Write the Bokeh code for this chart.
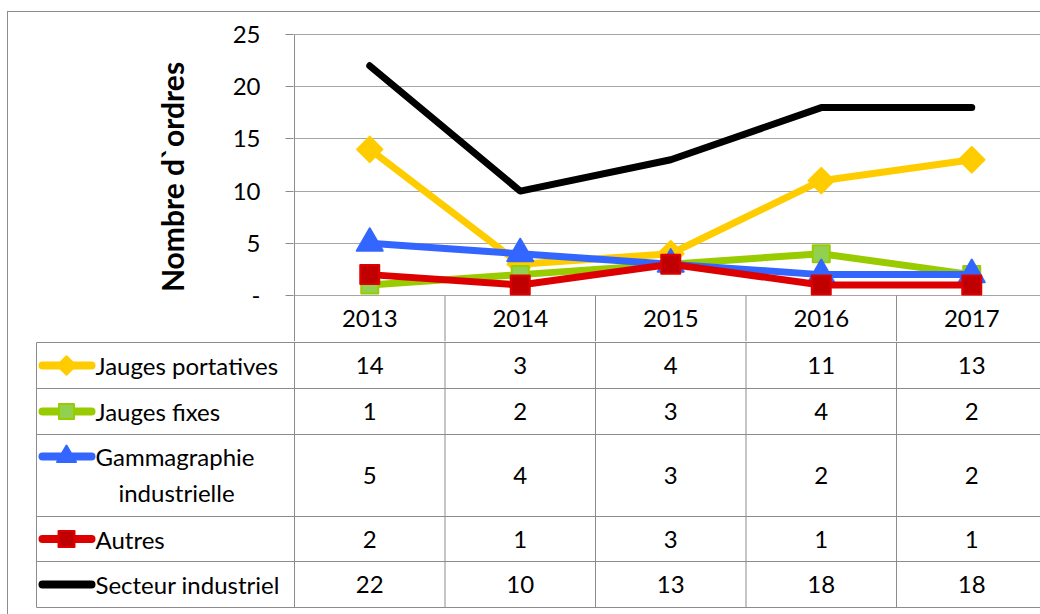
import math
from bokeh.plotting import figure
from bokeh.layouts import column
from bokeh.models import Range1d, FixedTicker, ColumnDataSource
from bokeh.core.properties import value
from bokeh.embed import file_html
from bokeh.resources import INLINE

# ---------------- data ----------------
years = ["2013", "2014", "2015", "2016", "2017"]
series_names = ["Jauges portatives", "Jauges fixes", "Gammagraphie\nindustrielle", "Autres", "Secteur industriel"]
jauges_portatives = [14, 3, 4, 11, 13]
jauges_fixes = [1, 2, 3, 4, 2]
gammagraphie = [5, 4, 3, 2, 2]
autres = [2, 1, 3, 1, 1]
secteur_industriel = [22, 10, 13, 18, 18]
y_ticks = [0, 5, 10, 15, 20, 25]
y_tick_labels = {0: "-", 5: "5", 10: "10", 15: "15", 20: "20", 25: "25"}

FONT = "Lato"
GRID = "#a6a6a6"
BORDER = "#8c8c8c"

# style per series: (line color, marker, angle, marker fill, marker line, size, legend size)
styles = [
    ("#FFCC00", "square", math.pi / 4, "#FFCC00", "#FFCC00", 18, 13),
    ("#99CC00", "square", 0, "#92D050", "#99CC00", 17, 15),
    ("#3366FF", "triangle", 0, "#3366FF", "#3366FF", 26, 19),
    ("#DD0000", "square", 0, "#C00000", "#DD0000", 19, 16),
    ("#000000", None, 0, None, None, 0, 0),
]
all_values = [jauges_portatives, jauges_fixes, gammagraphie, autres, secteur_industriel]

# page geometry (image pixels); the layout starts at (OX, OY) inside a bordered box
OX, OY = 8, 12
W = 1040 - OX
BAND_PX = 150.5
AXIS_PX = 294          # x of category boundary 0 / y axis
ZERO_PX = 295          # y of value 0
UNIT_PX = 10.44        # pixels per value unit
HEADER_BOTTOM_PX = 341
FRAME_LEFT_PX = 293

xs = [i + 0.5 for i in range(len(years))]

def px2x(px):
    return (px - AXIS_PX) / BAND_PX

def px2v(py):
    return (ZERO_PX - py) / UNIT_PX

TOP_H = HEADER_BOTTOM_PX - OY
BOT_H = 614 - HEADER_BOTTOM_PX
v_top = px2v(OY)
v_bottom = px2v(HEADER_BOTTOM_PX)

# ---------------- chart ----------------
top = figure(width=W, height=TOP_H, output_backend="svg", toolbar_location=None,
             x_range=Range1d(px2x(FRAME_LEFT_PX), px2x(1040)),
             y_range=Range1d(v_bottom, v_top),
             x_axis_location=None, min_border_left=FRAME_LEFT_PX - OX,
             min_border_right=0, min_border_top=0, min_border_bottom=0,
             outline_line_color=None, background_fill_color="white",
             border_fill_color="white")
try:
    top.frame_align = False
except Exception:
    pass
top.xgrid.visible = False
top.yaxis.ticker = FixedTicker(ticks=y_ticks)
top.ygrid.ticker = FixedTicker(ticks=y_ticks)
top.yaxis.major_label_overrides = y_tick_labels
top.ygrid.grid_line_color = GRID
top.yaxis.axis_line_color = None
top.yaxis.major_tick_line_color = BORDER
top.yaxis.major_tick_out = 8
top.yaxis.major_tick_in = 0
top.yaxis.minor_tick_line_color = None
top.yaxis.major_label_text_font = FONT
top.yaxis.major_label_text_font_size = "24px"
top.yaxis.major_label_text_color = "black"
top.yaxis.major_label_standoff = 25
top.yaxis.axis_label = "Nombre d`ordres"
top.yaxis.axis_label_text_font = FONT
top.yaxis.axis_label_text_font_style = "bold"
top.yaxis.axis_label_text_font_size = "30px"
top.yaxis.axis_label_text_color = "black"
top.yaxis.axis_label_standoff = 40

# axis line (from top tick down through the header row) and header band lines
vx = list(range(len(years) + 1))
top.segment(x0=[0], y0=[y_ticks[-1]], x1=[0], y1=[v_bottom], line_color=BORDER, line_width=1)
top.segment(x0=vx[1:], y0=[0] * (len(vx) - 1), x1=vx[1:], y1=[v_bottom] * (len(vx) - 1),
            line_color=BORDER, line_width=1)
top.text(x=xs, y=[v_bottom / 2] * len(years), text=years,
         text_font=value(FONT), text_font_size="24px", text_align="center",
         text_baseline="middle", text_color="black")

for k in range(len(all_values)):
    color, marker, angle, fill, mline, size, _ = styles[k]
    src = ColumnDataSource(dict(x=xs, y=all_values[k]))
    top.line("x", "y", source=src, line_color=color, line_width=7, line_join="round", line_cap="round")
    if marker:
        top.scatter("x", "y", source=src, marker=marker, size=size, angle=angle,
                    fill_color=fill, line_color=mline, line_width=2, line_join="round")

# ---------------- data table ----------------
row_bounds = [1, 47, 93, 175, 220, 266]   # pixels below the header row
bot = figure(width=W, height=BOT_H, output_backend="svg", toolbar_location=None,
             x_range=Range1d(px2x(OX), px2x(1040)), y_range=Range1d(BOT_H, 0),
             x_axis_location=None, y_axis_location=None,
             min_border=0, outline_line_color=None,
             background_fill_color="white", border_fill_color="white")
try:
    bot.frame_align = False
except Exception:
    pass
bot.grid.visible = False

table_left = px2x(36)
hy = row_bounds
bot.segment(x0=[table_left] * len(hy), y0=hy, x1=[len(years)] * len(hy), y1=hy,
            line_color=BORDER, line_width=1)
bot.segment(x0=vx, y0=[0] * len(vx), x1=vx, y1=[row_bounds[-1]] * len(vx),
            line_color=BORDER, line_width=1)
bot.segment(x0=[table_left], y0=[row_bounds[0]], x1=[table_left], y1=[row_bounds[-1]],
            line_color=BORDER, line_width=1)

TFS = "24px"
key_x0 = px2x(42)
key_x1 = px2x(91)
key_xm = px2x(66)
label_x = px2x(95)

for k, name in enumerate(series_names):
    r0, r1 = row_bounds[k], row_bounds[k + 1]
    yc = (r0 + r1) / 2
    nlines = name.count("\n") + 1
    key_y = yc if nlines == 1 else r0 + 22
    color, marker, angle, fill, mline, _, lsize = styles[k]
    bot.segment(x0=[key_x0], y0=[key_y], x1=[key_x1], y1=[key_y], line_color=color,
                line_width=8, line_cap="round")
    if marker:
        bot.scatter(x=[key_xm], y=[key_y], marker=marker, size=lsize, angle=angle,
                    fill_color=fill, line_color=mline, line_width=2, line_join="round")
    if nlines == 1:
        bot.text(x=[label_x], y=[yc], text=[name], text_font=value(FONT),
                 text_font_size=TFS, text_align="left", text_baseline="middle",
                 text_color="black")
    else:
        first, second = name.split("\n")
        bot.text(x=[label_x], y=[key_y], text=[first], text_font=value(FONT),
                 text_font_size=TFS, text_align="left", text_baseline="middle",
                 text_color="black")
        bot.text(x=[px2x(176)], y=[key_y + 36], text=[second], text_font=value(FONT),
                 text_font_size=TFS, text_align="center", text_baseline="middle",
                 text_color="black")
    bot.text(x=xs, y=[yc] * len(years), text=[str(v) for v in all_values[k]],
             text_font=value(FONT), text_font_size=TFS, text_align="center",
             text_baseline="middle", text_color="black")

layout = column(top, bot, spacing=0)
layout.styles = {"margin-left": f"{OX - 1}px", "margin-top": f"{OY - 1}px",
                 "border-left": f"1px solid {BORDER}", "border-top": f"1px solid {BORDER}"}

open("out.html", "w").write(file_html(layout, INLINE))
